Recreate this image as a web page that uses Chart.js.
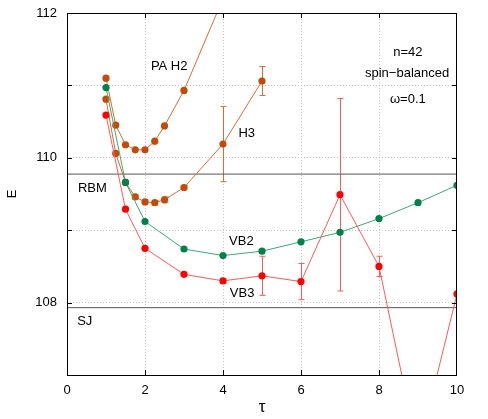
<!DOCTYPE html>
<html>
<head>
<meta charset="utf-8">
<script src="https://cdn.jsdelivr.net/npm/chart.js@4.4.0/dist/chart.umd.min.js"></script>
<style>
  html, body { margin: 0; padding: 0; background: #fff; }
  #wrap { width: 488px; height: 419px; }
</style>
</head>
<body>
<div id="wrap"><canvas id="chart"></canvas></div>
<script>
// values (tau, energy, error)
const TAU_PAH2 = [1, 1.25, 1.5, 1.75, 2, 2.25, 2.5, 3, 4];
const E_PAH2 = [111.10, 110.45, 110.18, 110.11, 110.11, 110.23, 110.44, 110.93, 112.2];

const TAU_H3 = [1, 1.25, 1.5, 1.75, 2, 2.25, 2.5, 3, 4, 5];
const E_H3 = [110.81, 110.06, 109.66, 109.46, 109.39, 109.38, 109.42, 109.59, 110.19, 111.06];
const ERR_H3 = [0, 0, 0, 0.03, 0.03, 0.03, 0.04, 0.03, 0.52, 0.2];

const TAU_VB2 = [1, 1.5, 2, 3, 4, 5, 6, 7, 8, 9, 10];
const E_VB2 = [110.97, 109.66, 109.12, 108.74, 108.65, 108.71, 108.84, 108.97, 109.16, 109.38, 109.62];

const TAU_VB3 = [1, 1.5, 2, 3, 4, 5, 6, 7, 8, 9, 10];
const E_VB3 = [110.59, 109.29, 108.75, 108.39, 108.30, 108.37, 108.29, 109.49, 108.50, 105.93, 108.12];
const ERR_VB3 = [0, 0, 0, 0, 0.03, 0.27, 0.25, 1.33, 0.14, 0, 0];

const E_RBM = 109.775;
const E_SJ = 107.93;

const X_TICKS = [0, 2, 4, 6, 8, 10];
const Y_TICKS = [108, 110, 112];

// text labels placed in data coordinates
const NOTES = [
  { text: 'PA H2', x: 2.62, y: 111.26, align: 'center' },
  { text: 'H3', x: 4.61, y: 110.34, align: 'center' },
  { text: 'RBM', x: 0.28, y: 109.58, align: 'left' },
  { text: 'SJ', x: 0.26, y: 107.74, align: 'left' },
  { text: 'VB2', x: 4.47, y: 108.84, align: 'center' },
  { text: 'VB3', x: 4.49, y: 108.12, align: 'center' },
  { text: 'n=42', x: 8.74, y: 111.45, align: 'center' },
  { text: 'spin\u2212balanced', x: 8.72, y: 111.16, align: 'center' },
  { text: '\u03c9=0.1', x: 8.74, y: 110.81, align: 'center' }
];

const FONT = "'Liberation Sans', Arial, sans-serif";

const pts = (xs, ys) => xs.map((x, i) => ({ x, y: ys[i] }));

function series(label, xs, ys, err, pointColor, lineColor) {
  return {
    label,
    data: pts(xs, ys),
    err,
    borderColor: lineColor,
    backgroundColor: pointColor,
    pointBackgroundColor: pointColor,
    pointBorderColor: pointColor,
    pointRadius: 3.6,
    pointBorderWidth: 0,
    borderWidth: 1,
    tension: 0
  };
}

function hline(label, y) {
  return {
    label,
    data: [{ x: 0, y }, { x: 10, y }],
    borderColor: '#555',
    borderWidth: 1,
    pointRadius: 0
  };
}

// error bars, frame, inward ticks and text notes
const extras = {
  id: 'extras',
  beforeDatasetsDraw(chart) {
    const { ctx, scales: { x, y } } = chart;
    const a = chart.chartArea;
    ctx.save();
    ctx.beginPath();
    ctx.rect(a.left, a.top, a.right - a.left, a.bottom - a.top);
    ctx.clip();
    chart.data.datasets.forEach(ds => {
      if (!ds.err) return;
      ctx.strokeStyle = ds.borderColor;
      ctx.lineWidth = 1;
      ds.data.forEach((p, i) => {
        const e = ds.err[i];
        if (!e) return;
        const px = Math.round(x.getPixelForValue(p.x)) + 0.5;
        const top = y.getPixelForValue(p.y + e);
        const bot = y.getPixelForValue(p.y - e);
        ctx.beginPath();
        ctx.moveTo(px, top); ctx.lineTo(px, bot);
        ctx.moveTo(px - 3, top); ctx.lineTo(px + 3, top);
        ctx.moveTo(px - 3, bot); ctx.lineTo(px + 3, bot);
        ctx.stroke();
      });
    });
    ctx.restore();
  },
  afterDatasetsDraw(chart) {
    const { ctx, scales: { x, y } } = chart;
    const a = chart.chartArea;
    ctx.save();
    ctx.strokeStyle = '#000';
    ctx.lineWidth = 1;
    ctx.strokeRect(Math.round(a.left) + 0.5, Math.round(a.top) + 0.5,
      Math.round(a.right - a.left) - 1, Math.round(a.bottom - a.top));
    ctx.beginPath();
    [2, 4, 6, 8].forEach(v => {
      const px = Math.round(x.getPixelForValue(v)) + 0.5;
      ctx.moveTo(px, a.bottom); ctx.lineTo(px, a.bottom - 5);
      ctx.moveTo(px, a.top); ctx.lineTo(px, a.top + 5);
    });
    [108, 109, 110, 111].forEach(v => {
      const py = Math.round(y.getPixelForValue(v)) + 0.5;
      ctx.moveTo(a.left, py); ctx.lineTo(a.left + 5, py);
      ctx.moveTo(a.right, py); ctx.lineTo(a.right - 5, py);
    });
    ctx.stroke();

    ctx.fillStyle = '#000';
    ctx.font = '13px ' + FONT;
    ctx.textBaseline = 'middle';
    NOTES.forEach(n => {
      ctx.textAlign = n.align;
      ctx.fillText(n.text, x.getPixelForValue(n.x), y.getPixelForValue(n.y));
    });
    ctx.restore();
  }
};

const ctx = document.getElementById('chart').getContext('2d');
new Chart(ctx, {
  type: 'line',
  data: {
    datasets: [
      series('VB3', TAU_VB3, E_VB3, ERR_VB3, '#ff0000', '#ff5a5a'),
      series('VB2', TAU_VB2, E_VB2, null, '#00804a', '#3fa874'),
      series('H3', TAU_H3, E_H3, ERR_H3, '#c44a08', '#d96d33'),
      series('PA H2', TAU_PAH2, E_PAH2, null, '#c44a08', '#d96d33'),
      hline('RBM', E_RBM),
      hline('SJ', E_SJ)
    ]
  },
  options: {
    responsive: true,
    maintainAspectRatio: false,
    animation: false,
    layout: { padding: { left: 0, right: 31, top: 13, bottom: 0 } },
    plugins: {
      legend: { display: false },
      tooltip: { enabled: false }
    },
    scales: {
      x: {
        type: 'linear',
        min: 0,
        max: 10,
        afterFit: s => { s.height = 44; s.paddingLeft = 0; s.paddingRight = 0; },
        afterBuildTicks: s => { s.ticks = X_TICKS.map(v => ({ value: v })); },
        ticks: { color: '#000', font: { family: FONT, size: 13 }, padding: 8, maxRotation: 0 },
        grid: {
          drawTicks: false,
          color: c => (c.tick && c.tick.value > 0 && c.tick.value < 10) ? '#c4c4c4' : 'transparent'
        },
        border: { display: false, dash: [1, 2] },
        title: { display: true, text: '\u03c4', color: '#000', font: { family: FONT, size: 17 }, padding: { top: 0, bottom: 1 } }
      },
      y: {
        type: 'linear',
        min: 107,
        max: 112,
        afterFit: s => { s.width = 67; s.paddingTop = 0; s.paddingBottom = 0; },
        afterBuildTicks: s => { s.ticks = [107, 108, 109, 110, 111, 112].map(v => ({ value: v })); },
        ticks: {
          color: '#000',
          font: { family: FONT, size: 13 },
          padding: 10,
          callback: v => Y_TICKS.includes(v) ? String(v) : ''
        },
        grid: {
          drawTicks: false,
          color: c => (c.tick && c.tick.value > 107 && c.tick.value < 112) ? '#c4c4c4' : 'transparent'
        },
        border: { display: false, dash: [1, 2] },
        title: { display: true, text: 'E', color: '#000', font: { family: FONT, size: 13 }, padding: { top: 5, bottom: 0 } }
      }
    }
  },
  plugins: [extras]
});
</script>
</body>
</html>
